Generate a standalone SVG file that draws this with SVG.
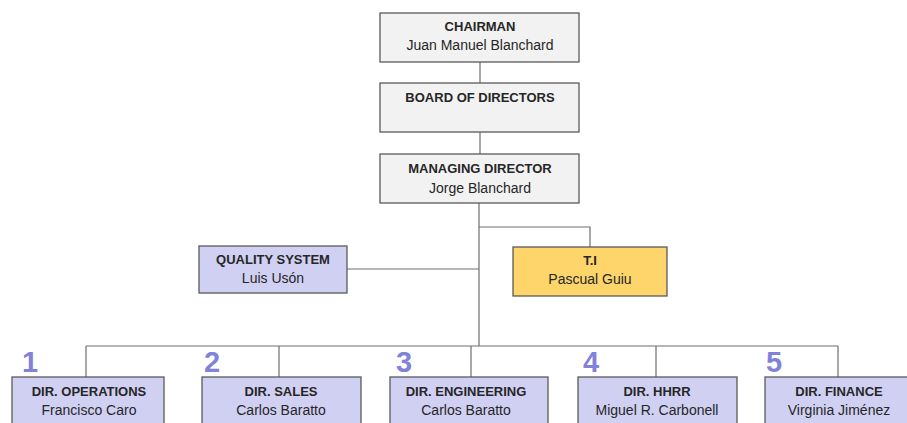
<svg xmlns="http://www.w3.org/2000/svg" width="907" height="423" viewBox="0 0 907 423">
<style>
.box{stroke:#5a5a5a;stroke-width:1.3}
.grey{fill:#f2f2f2}
.blue{fill:#d0d0f3}
.yellow{fill:#fdd56b}
.t{font-family:"Liberation Sans",Arial,sans-serif;font-size:14px;fill:#262626;text-anchor:middle}
.b{font-weight:bold;font-size:13px}
.num{font-family:"Liberation Sans",Arial,sans-serif;font-size:29px;font-weight:bold;fill:#8282d8}
.ln{stroke:#6e6e6e;stroke-width:1.2;fill:none}
</style>
<rect width="907" height="423" fill="#ffffff"/>
<g id="connectors">
<line class="ln" x1="480" y1="62" x2="480" y2="83"/>
<line class="ln" x1="480" y1="132" x2="480" y2="154"/>
<line class="ln" x1="479" y1="203" x2="479" y2="346"/>
<polyline class="ln" points="479,227 590,227 590,247"/>
<line class="ln" x1="347" y1="269" x2="479" y2="269"/>
<line class="ln" x1="86" y1="346" x2="838" y2="346"/>
<line class="ln" x1="86" y1="346" x2="86" y2="377"/>
<line class="ln" x1="279" y1="346" x2="279" y2="377"/>
<line class="ln" x1="471" y1="346" x2="471" y2="377"/>
<line class="ln" x1="656" y1="346" x2="656" y2="377"/>
<line class="ln" x1="838" y1="346" x2="838" y2="377"/>
</g>
<g id="chairman">
<rect class="box grey" x="380" y="13" width="199" height="49"/>
<text class="t b" x="480" y="31">CHAIRMAN</text>
<text class="t" x="480" y="50">Juan Manuel Blanchard</text>
</g>
<g id="board">
<rect class="box grey" x="380" y="83" width="199" height="49"/>
<text class="t b" x="480" y="102">BOARD OF DIRECTORS</text>
</g>
<g id="managing">
<rect class="box grey" x="380" y="154" width="199" height="49"/>
<text class="t b" x="480" y="173">MANAGING DIRECTOR</text>
<text class="t" x="480" y="193">Jorge Blanchard</text>
</g>
<g id="quality">
<rect class="box blue" x="199" y="246" width="148" height="47"/>
<text class="t b" x="273" y="264">QUALITY SYSTEM</text>
<text class="t" x="273" y="283">Luis Usón</text>
</g>
<g id="ti">
<rect class="box yellow" x="513" y="247" width="154" height="49"/>
<text class="t b" x="590" y="265">T.I</text>
<text class="t" x="590" y="284">Pascual Guiu</text>
</g>
<g id="dir-operations">
<text class="num" x="22" y="372">1</text>
<rect class="box blue" x="12" y="377" width="152" height="60"/>
<text class="t b" x="89" y="396">DIR. OPERATIONS</text>
<text class="t" x="89" y="415">Francisco Caro</text>
</g>
<g id="dir-sales">
<text class="num" x="204" y="372">2</text>
<rect class="box blue" x="202" y="377" width="159" height="60"/>
<text class="t b" x="281" y="396">DIR. SALES</text>
<text class="t" x="281" y="415">Carlos Baratto</text>
</g>
<g id="dir-engineering">
<text class="num" x="396" y="372">3</text>
<rect class="box blue" x="390" y="377" width="158" height="60"/>
<text class="t b" x="466" y="396">DIR. ENGINEERING</text>
<text class="t" x="466" y="415">Carlos Baratto</text>
</g>
<g id="dir-hhrr">
<text class="num" x="583" y="372">4</text>
<rect class="box blue" x="578" y="377" width="159" height="60"/>
<text class="t b" x="657" y="396">DIR. HHRR</text>
<text class="t" x="657" y="415">Miguel R. Carbonell</text>
</g>
<g id="dir-finance">
<text class="num" x="766" y="372">5</text>
<rect class="box blue" x="765" y="377" width="160" height="60"/>
<text class="t b" x="839" y="396">DIR. FINANCE</text>
<text class="t" x="839" y="415">Virginia Jiménez</text>
</g>
</svg>
